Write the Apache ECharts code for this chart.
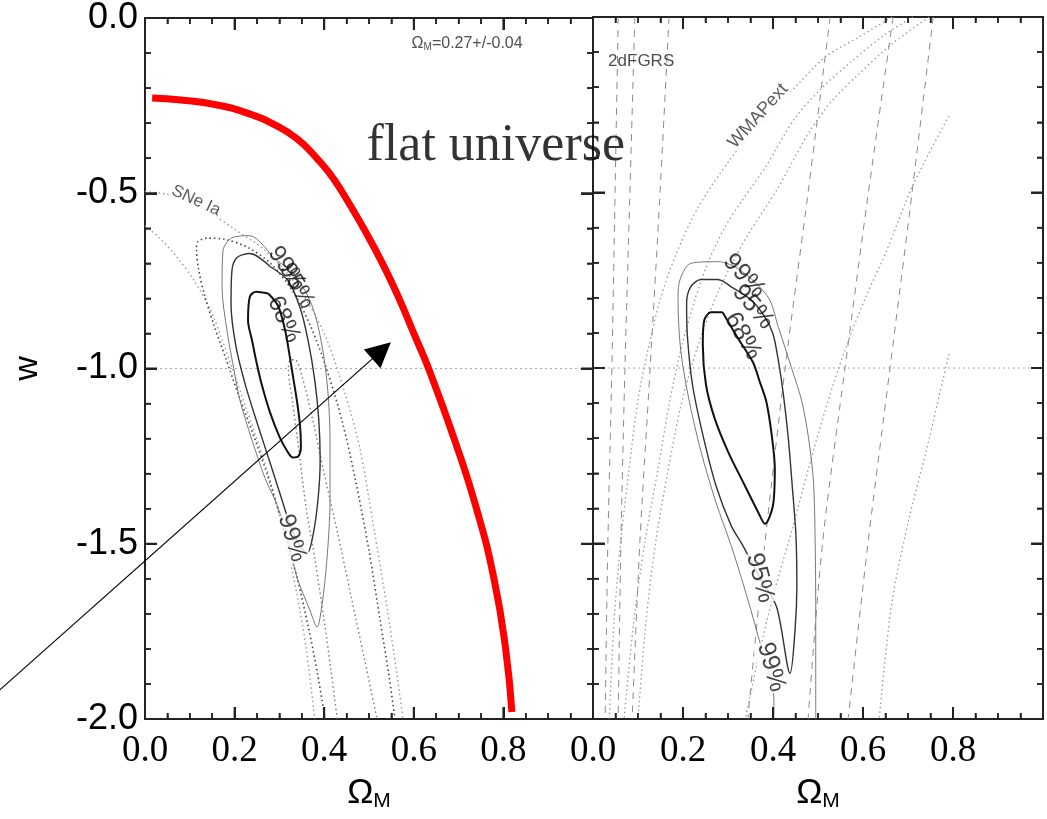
<!DOCTYPE html>
<html><head><meta charset="utf-8">
<script src="https://cdn.jsdelivr.net/npm/echarts@6/dist/echarts.min.js"></script>
<style>html,body{margin:0;padding:0;background:#fff}#c{width:1047px;height:819px}</style>
</head><body><div id="c"></div>
<script>
// ---------- tick labels ----------
const xTickLabels = ['0.0', '0.2', '0.4', '0.6', '0.8'];
const yTickLabels = ['-2.0', '-1.5', '-1.0', '-0.5', '0.0'];

// ---------- left panel (SNe Ia) ----------
const flatUniverse = [[0.016,-0.228],[0.08,-0.234],[0.16,-0.248],[0.23,-0.272],[0.29,-0.305],[0.34,-0.345],[0.38,-0.395],[0.41,-0.44],[0.437,-0.49],[0.488,-0.60],[0.530,-0.70],[0.567,-0.80],[0.600,-0.90],[0.633,-1.0],[0.690,-1.2],[0.740,-1.4],[0.779,-1.6],[0.805,-1.8],[0.819,-1.98]];
const arrowLine = [[-0.324,-1.917],[0.528,-0.949]];
const wLine = [[0,-1],[1,-1]];

const left68 = [[0.275,-0.786],[0.248,-0.781],[0.234,-0.795],[0.230,-0.863],[0.239,-0.920],[0.248,-0.977],[0.261,-1.048],[0.279,-1.125],[0.301,-1.197],[0.319,-1.239],[0.330,-1.254],[0.342,-1.251],[0.348,-1.222],[0.346,-1.162],[0.339,-1.091],[0.330,-1.020],[0.321,-0.949],[0.313,-0.892],[0.297,-0.821],[0.275,-0.786]];
const left95 = [[0.279,-0.709],[0.234,-0.672],[0.205,-0.684],[0.194,-0.721],[0.192,-0.815],[0.203,-0.937],[0.225,-1.051],[0.252,-1.162],[0.279,-1.268],[0.304,-1.368],[0.324,-1.447],[0.346,-1.507],[0.362,-1.527],[0.375,-1.476],[0.386,-1.376],[0.391,-1.262],[0.388,-1.148],[0.379,-1.034],[0.364,-0.920],[0.346,-0.826],[0.319,-0.749],[0.279,-0.709]];
const left99 = [[0.286,-0.684],[0.234,-0.621],[0.194,-0.627],[0.174,-0.664],[0.172,-0.769],[0.183,-0.892],[0.196,-0.986],[0.212,-1.091],[0.239,-1.205],[0.268,-1.313],[0.295,-1.390],[0.319,-1.490],[0.339,-1.595],[0.368,-1.689],[0.384,-1.738],[0.395,-1.675],[0.406,-1.547],[0.413,-1.376],[0.413,-1.205],[0.408,-1.063],[0.395,-0.934],[0.373,-0.821],[0.335,-0.735],[0.286,-0.684]];

const sneOuterTop = [[0,-0.495],[0.05,-0.503],[0.1,-0.525],[0.15,-0.56],[0.2,-0.603],[0.27,-0.665],[0.34,-0.765],[0.40,-0.90],[0.445,-1.065],[0.48,-1.23],[0.51,-1.45],[0.54,-1.68],[0.562,-1.87],[0.576,-2.0]];
const sneOuterLeft = [[0,-0.592],[0.03,-0.625],[0.07,-0.68],[0.11,-0.75],[0.145,-0.83],[0.17,-0.91],[0.195,-1.0],[0.225,-1.11],[0.26,-1.24],[0.29,-1.37],[0.315,-1.5],[0.34,-1.65],[0.36,-1.8],[0.379,-2.0]];
const sneMid = [[0.402,-2.0],[0.385,-1.87],[0.365,-1.74],[0.34,-1.6],[0.31,-1.46],[0.28,-1.33],[0.245,-1.2],[0.21,-1.08],[0.18,-0.97],[0.155,-0.88],[0.135,-0.80],[0.12,-0.72],[0.115,-0.66],[0.118,-0.638],[0.14,-0.628],[0.18,-0.632],[0.23,-0.655],[0.28,-0.70],[0.33,-0.78],[0.37,-0.88],[0.405,-1.0],[0.44,-1.15],[0.47,-1.32],[0.50,-1.52],[0.525,-1.72],[0.545,-1.88],[0.558,-2.0]];
const sneInner = [[0.429,-2.0],[0.415,-1.86],[0.40,-1.72],[0.38,-1.55],[0.36,-1.4],[0.345,-1.25],[0.33,-1.1],[0.32,-1.0],[0.325,-0.975],[0.335,-0.975],[0.35,-1.02],[0.375,-1.15],[0.40,-1.3],[0.43,-1.47],[0.46,-1.65],[0.49,-1.83],[0.518,-2.0]];

// ---------- right panel (2dFGRS + WMAPext) ----------
const right68 = [[0.288,-0.841],[0.262,-0.841],[0.247,-0.865],[0.244,-0.932],[0.251,-1.047],[0.270,-1.142],[0.300,-1.238],[0.337,-1.334],[0.367,-1.411],[0.382,-1.444],[0.400,-1.391],[0.404,-1.286],[0.397,-1.190],[0.385,-1.095],[0.370,-1.037],[0.356,-0.985],[0.322,-0.915],[0.288,-0.841]];
const right95 = [[0.307,-0.769],[0.277,-0.748],[0.240,-0.748],[0.217,-0.769],[0.208,-0.817],[0.210,-0.913],[0.221,-1.047],[0.244,-1.190],[0.273,-1.334],[0.307,-1.449],[0.333,-1.506],[0.371,-1.598],[0.408,-1.681],[0.438,-1.870],[0.449,-1.746],[0.453,-1.621],[0.451,-1.478],[0.442,-1.324],[0.434,-1.200],[0.423,-1.075],[0.412,-0.980],[0.400,-0.903],[0.382,-0.855],[0.352,-0.807],[0.307,-0.769]];
const right99 = [[0.402,-2.0],[0.402,-1.946],[0.367,-1.764],[0.333,-1.612],[0.307,-1.506],[0.273,-1.382],[0.240,-1.238],[0.214,-1.095],[0.195,-0.951],[0.189,-0.807],[0.191,-0.760],[0.217,-0.702],[0.277,-0.697],[0.327,-0.721],[0.389,-0.798],[0.412,-0.884],[0.441,-0.999],[0.464,-1.095],[0.479,-1.200],[0.490,-1.325],[0.494,-1.525],[0.495,-1.717],[0.495,-2.0]];

const wmap1 = [[0.664,0],[0.591,-0.057],[0.516,-0.114],[0.456,-0.191],[0.382,-0.288],[0.307,-0.402],[0.233,-0.544],[0.184,-0.678],[0.149,-0.806],[0.122,-0.949],[0.100,-1.091],[0.080,-1.291],[0.062,-1.490],[0.047,-1.718],[0.036,-2.0]];
const wmap2 = [[0.711,0],[0.651,-0.048],[0.576,-0.125],[0.509,-0.202],[0.449,-0.288],[0.382,-0.430],[0.329,-0.527],[0.291,-0.604],[0.256,-0.698],[0.227,-0.803],[0.198,-0.934],[0.171,-1.091],[0.144,-1.291],[0.116,-1.490],[0.091,-1.718],[0.069,-2.0]];
const wmap3 = [[0.747,0],[0.664,-0.077],[0.591,-0.162],[0.531,-0.239],[0.478,-0.333],[0.411,-0.487],[0.344,-0.621],[0.307,-0.707],[0.278,-0.783],[0.249,-0.877],[0.220,-0.991],[0.193,-1.120],[0.167,-1.291],[0.140,-1.490],[0.118,-1.718],[0.100,-2.0]];
const wmap4 = [[0.791,-0.282],[0.711,-0.479],[0.651,-0.670],[0.607,-0.795],[0.560,-0.949],[0.516,-1.120],[0.478,-1.291],[0.444,-1.453],[0.404,-1.632],[0.371,-1.803],[0.349,-1.937],[0.338,-2.0]];
const wmap5 = [[0.791,-0.960],[0.740,-1.239],[0.702,-1.430],[0.664,-1.670],[0.636,-2.0]];

const dashW = [0, -0.5, -1.0, -1.5, -2.0];
const dfA = [0.056, 0.049, 0.042, 0.033, 0.027];
const dfB = [0.093, 0.082, 0.071, 0.062, 0.056];
const dfC = [0.169, 0.149, 0.127, 0.104, 0.087];
const dfD = [0.527, 0.478, 0.427, 0.382, 0.344];
const dfE = [0.667, 0.612, 0.560, 0.510, 0.478];
const dfF = [0.756, 0.709, 0.660, 0.611, 0.567];

// ---------- annotations (text, data position) ----------
const leftTexts = [
  ['99%', 0.317, -0.715], ['95%', 0.339, -0.764], ['68%', 0.310, -0.860], ['99%', 0.328, -1.484]
];
const rightTexts = [
  ['99%', 0.336, -0.738], ['95%', 0.356, -0.826], ['68%', 0.333, -0.909], ['95%', 0.371, -1.598], ['99%', 0.396, -1.852]
];
const leftRot = [-55, -60, -65, -73];
const rightRot = [-48, -50, -60, -75, -74];

const titleText = 'flat universe';
const titlePos = [0.783, -0.365];
const omText = '{a|Ω}{b|M}{a|=0.27+/-0.04}';
const omPos = [0.719, -0.074];
const sneText = 'SNe Ia';
const snePos = [0.114, -0.521];
const dfText = '2dFGRS';
const dfPos = [0.107, -0.125];
const wmText = 'WMAPext';
const wmPos = [0.367, -0.282];

// ---------- build ----------
const SANS = '"Liberation Sans", Arial, sans-serif';
const SERIF = '"Liberation Serif", "Times New Roman", serif';
const AX = '#222';

// tick positions follow the axis intervals (major 0.2 / 0.5, minor 0.05 / 0.1)
const tickData = [];
for (let i = 0; i <= 20; i++) tickData.push([0, i * 0.05, i % 4 === 0 ? 12 : 6]);
for (let i = 0; i <= 20; i++) tickData.push([1, -2 + i * 0.1, i % 5 === 0 ? 12 : 6]);

function xAx(gi, pos, labels) {
  return {
    type: 'value', gridIndex: gi, position: pos, min: 0, max: 1, interval: 0.2,
    axisLine: { show: true, onZero: false, lineStyle: { color: AX, width: 2 } },
    axisTick: { show: true, inside: true, length: 12, lineStyle: { color: AX, width: 2 } },
    minorTick: { show: true, splitNumber: 4, length: 6, lineStyle: { color: AX, width: 1.5 } },
    splitLine: { show: false },
    axisLabel: {
      show: labels, margin: 14, color: '#000', fontFamily: SERIF, fontSize: 37,
      formatter: v => { const i = Math.round(v / 0.2); return (Math.abs(v - i * 0.2) < 1e-6 && xTickLabels[i]) || ''; }
    },
    name: labels ? '{o|Ω}{s|M}' : '',
    nameLocation: 'middle', nameGap: 56,
    nameTextStyle: { rich: { o: { fontSize: 35, fontFamily: SANS, color: '#000' }, s: { fontSize: 21, fontFamily: SANS, color: '#000', padding: [16, 0, 0, 0] } } }
  };
}
function yAx(gi, pos, labels, name) {
  return {
    type: 'value', gridIndex: gi, position: pos, min: -2, max: 0, interval: 0.5,
    axisLine: { show: true, onZero: false, lineStyle: { color: AX, width: 2 } },
    axisTick: { show: true, inside: true, length: 12, lineStyle: { color: AX, width: 2 } },
    minorTick: { show: true, splitNumber: 5, length: 6, lineStyle: { color: AX, width: 1.5 } },
    splitLine: { show: false },
    axisLabel: {
      show: labels, margin: 7, color: '#000', fontFamily: SANS, fontSize: 36,
      formatter: v => yTickLabels[Math.round((v + 2) / 0.5)] || ''
    },
    name: name || '', nameLocation: 'middle', nameGap: 100, nameRotate: 90,
    nameTextStyle: { fontSize: 34, fontFamily: SANS, color: '#000' }
  };
}

function ln(data, gi, color, width, type, smooth, z) {
  return {
    type: 'line', xAxisIndex: gi * 2, yAxisIndex: gi * 2, data: data,
    showSymbol: false, symbol: 'none', smooth: smooth, silent: true, z: z || 2,
    lineStyle: { color: color, width: width, type: type || 'solid' }
  };
}
function dashed(xs, gi) {
  return ln(xs.map((x, i) => [x, dashW[i]]), gi, '#8a8a8a', 1, [7, 6], 0.3, 1);
}
function textSeries(items, rots, gi, size, bgIdx) {
  return {
    type: 'scatter', xAxisIndex: gi * 2, yAxisIndex: gi * 2, symbolSize: 0, silent: true, z: 6,
    data: items.map((t, i) => ({
      value: [t[1], t[2]],
      label: {
        show: true, position: 'inside', formatter: t[0], rotate: rots[i],
        fontFamily: SANS, fontSize: size, color: '#111',
        backgroundColor: bgIdx.includes(i) ? '#fff' : 'transparent', padding: [0, 1]
      }
    }))
  };
}
function oneText(pos, gi, text, style) {
  return {
    type: 'scatter', xAxisIndex: gi * 2, yAxisIndex: gi * 2, symbolSize: 0, silent: true, z: 7,
    data: [{ value: pos, label: Object.assign({ show: true, position: 'inside', formatter: text }, style) }]
  };
}
function tickSeries(gi) {
  return {
    type: 'custom', xAxisIndex: gi * 2, yAxisIndex: gi * 2, silent: true, z: 10, clip: false,
    data: tickData,
    renderItem: function (params, api) {
      const k = api.value(0), v = api.value(1), len = api.value(2);
      const st = { stroke: AX, lineWidth: len > 8 ? 2 : 1.5 };
      let a, b, s1, s2;
      if (k === 0) {
        a = api.coord([v, -2]); b = api.coord([v, 0]);
        s1 = { x1: a[0], y1: a[1], x2: a[0], y2: a[1] - len };
        s2 = { x1: b[0], y1: b[1], x2: b[0], y2: b[1] + len };
      } else {
        a = api.coord([0, v]); b = api.coord([1, v]);
        s1 = { x1: a[0], y1: a[1], x2: a[0] + len, y2: a[1] };
        s2 = { x1: b[0], y1: b[1], x2: b[0] - len, y2: b[1] };
      }
      return { type: 'group', children: [
        { type: 'line', shape: s1, style: st },
        { type: 'line', shape: s2, style: st }
      ] };
    }
  };
}

const DOT = [1.5, 3];
const series = [
  ln(wLine, 0, '#aaa', 1, [2, 3], false, 1),
  ln(wLine, 1, '#aaa', 1, [2, 3], false, 1),
  ln(sneOuterTop, 0, '#9a9a9a', 1.4, DOT, 0.3),
  ln(sneOuterLeft, 0, '#9a9a9a', 1.4, DOT, 0.3),
  ln(sneMid, 0, '#444', 1.6, DOT, 0.3),
  ln(sneInner, 0, '#777', 1.4, DOT, 0.3),
  ln(left99, 0, '#777', 1, 'solid', 0.3, 3),
  ln(left95, 0, '#333', 1.4, 'solid', 0.3, 3),
  ln(left68, 0, '#111', 2, 'solid', 0.3, 3),
  ln(flatUniverse, 0, '#ff0000', 7, 'solid', 0.5, 4),
  dashed(dfA, 1), dashed(dfB, 1), dashed(dfC, 1), dashed(dfD, 1), dashed(dfE, 1), dashed(dfF, 1),
  ln(wmap1, 1, '#999', 1.3, DOT, 0.3),
  ln(wmap2, 1, '#999', 1.3, DOT, 0.3),
  ln(wmap3, 1, '#999', 1.3, DOT, 0.3),
  ln(wmap4, 1, '#999', 1.3, DOT, 0.3),
  ln(wmap5, 1, '#999', 1.3, DOT, 0.3),
  ln(right99, 1, '#777', 1, 'solid', 0.3, 3),
  ln(right95, 1, '#333', 1.4, 'solid', 0.3, 3),
  ln(right68, 1, '#111', 2, 'solid', 0.3, 3),
  {
    type: 'lines', coordinateSystem: 'cartesian2d', xAxisIndex: 0, yAxisIndex: 0, clip: false, silent: true, z: 8,
    symbol: ['none', 'triangle'], symbolSize: [0, 25],
    lineStyle: { color: '#000', width: 1.2, opacity: 1, curveness: 0 },
    data: [{ coords: arrowLine }]
  },
  textSeries(leftTexts, leftRot, 0, 24, [3]),
  textSeries(rightTexts, rightRot, 1, 25, [3, 4]),
  oneText(titlePos, 0, titleText, { fontFamily: SERIF, fontSize: 52, color: '#000' }),
  oneText(omPos, 0, omText, { rich: { a: { fontFamily: SANS, fontSize: 16, color: '#222' }, b: { fontFamily: SANS, fontSize: 10, color: '#222', padding: [7, 0, 0, 0] } } }),
  oneText(snePos, 0, sneText, { fontFamily: SANS, fontSize: 17, color: '#333', rotate: -25, backgroundColor: '#fff' }),
  oneText(dfPos, 1, dfText, { fontFamily: SANS, fontSize: 17, color: '#222' }),
  oneText(wmPos, 1, wmText, { fontFamily: SANS, fontSize: 18, color: '#333', rotate: 48, backgroundColor: '#fff' }),
  tickSeries(0), tickSeries(1)
];

const chart = echarts.init(document.getElementById('c'));
chart.setOption({
  animation: false,
  backgroundColor: '#fff',
  grid: [
    { left: 145, top: 17, width: 448, height: 702 },
    { left: 593, top: 17, width: 450, height: 702 }
  ],
  xAxis: [xAx(0, 'bottom', true), xAx(0, 'top', false), xAx(1, 'bottom', true), xAx(1, 'top', false)],
  yAxis: [yAx(0, 'left', true, 'w'), yAx(0, 'right', false), yAx(1, 'left', false), yAx(1, 'right', false)],
  series: series
});
</script></body></html>
